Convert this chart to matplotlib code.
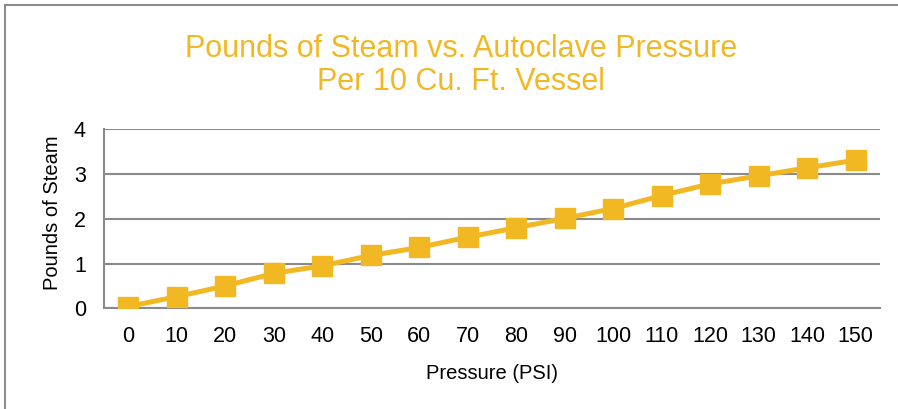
import matplotlib.pyplot as plt
from matplotlib.patches import Rectangle

pressure = ['0', '10', '20', '30', '40', '50', '60', '70', '80', '90',
            '100', '110', '120', '130', '140', '150']
steam = [0.04, 0.26, 0.50, 0.78, 0.95, 1.18, 1.36, 1.59, 1.80, 2.01,
         2.23, 2.52, 2.78, 2.96, 3.14, 3.31]

gold = '#F2B824'
grid = '#8a8a8a'
plt.rcParams['font.family'] = ['Liberation Sans', 'DejaVu Sans']

fig = plt.figure(figsize=(8.98, 4.09), dpi=100)
ax = fig.add_axes([104/898, 1 - 308.3/409, 776/898, 179/409])

x = list(range(len(pressure)))
ax.plot(x, steam, color=gold, lw=3.6, marker='s', ms=14.5, zorder=3)

ax.set_xlim(-0.5, 15.5)
ax.set_ylim(0, 4)
ax.set_yticks([0, 1, 2, 3, 4])
ax.set_xticks(x)
ax.set_xticklabels(pressure)
ax.grid(axis='y', color=grid, lw=1.5)
ax.set_axisbelow(True)
for s in ['top', 'right']:
    ax.spines[s].set_visible(False)
ax.spines['left'].set_color(grid)
ax.spines['bottom'].set_color(grid)
ax.spines['left'].set_linewidth(1.5)
ax.spines['bottom'].set_linewidth(1.5)
ax.tick_params(length=0, labelsize=15.5, colors='black')
ax.tick_params(axis='x', pad=13)
ax.tick_params(axis='y', pad=13)
ax.set_xlabel('Pressure (PSI)', fontsize=14.5, labelpad=12)
ax.set_ylabel('Pounds of Steam', fontsize=14.5, va='center')
ax.yaxis.set_label_coords(-0.067, 0.535)

fig.text(461/898, 1 - 49/409, 'Pounds of Steam vs. Autoclave Pressure', ha='center', va='center',
         color=gold, fontsize=22)
fig.text(461/898, 1 - 82/409, 'Per 10 Cu. Ft. Vessel', ha='center', va='center',
         color=gold, fontsize=22)

# chart frame
fig.patches.append(Rectangle((5/898, -0.1), 1.1, 1.1 - 5/409, transform=fig.transFigure,
                             fill=False, edgecolor='#8c8c8c', lw=1.5))

fig.savefig('out.png', dpi=100)
